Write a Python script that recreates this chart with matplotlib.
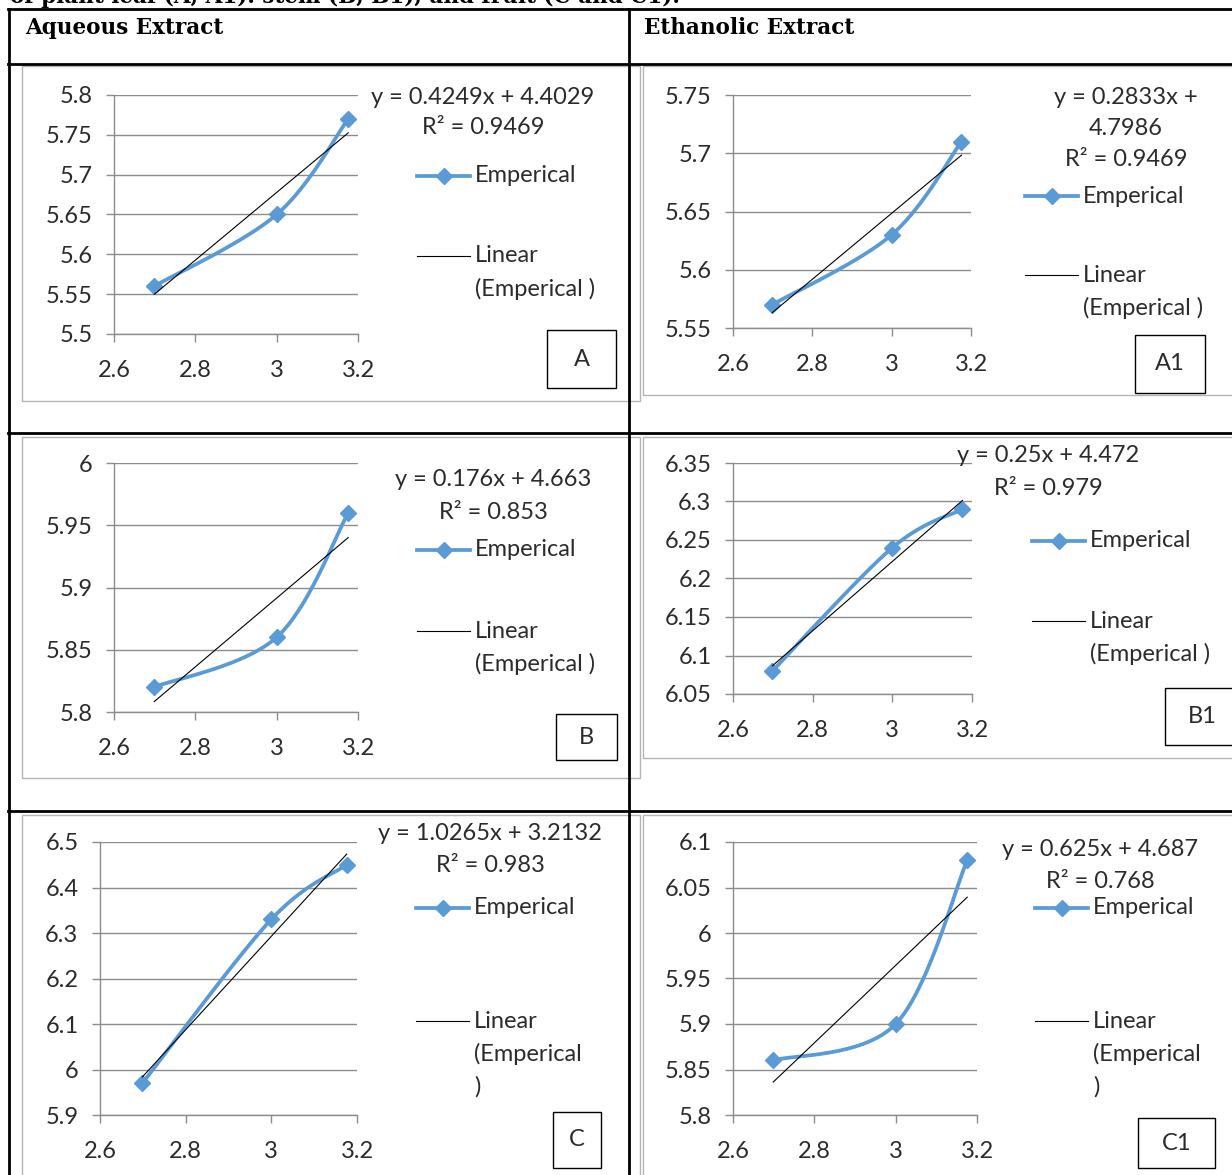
import numpy as np
import matplotlib.pyplot as plt
from matplotlib.lines import Line2D
from matplotlib.patches import Rectangle
from matplotlib.ticker import FuncFormatter

W, H = 1232, 1175

# data: log concentration vs empirical value, per panel
x_conc = [2.699, 3.0, 3.176]
panels = ['A', 'A1', 'B', 'B1', 'C', 'C1']
emp_A = [5.56, 5.65, 5.77]
emp_A1 = [5.57, 5.63, 5.71]
emp_B = [5.82, 5.86, 5.96]
emp_B1 = [6.08, 6.24, 6.29]
emp_C = [5.97, 6.33, 6.45]
emp_C1 = [5.86, 5.90, 6.08]

eq_A = ['y = 0.4249x + 4.4029', 'R² = 0.9469']
eq_A1 = ['y = 0.2833x +', '4.7986', 'R² = 0.9469']
eq_B = ['y = 0.176x + 4.663', 'R² = 0.853']
eq_B1 = ['y = 0.25x + 4.472', 'R² = 0.979']
eq_C = ['y = 1.0265x + 3.2132', 'R² = 0.983']
eq_C1 = ['y = 0.625x + 4.687', 'R² = 0.768']

yticks_A = [5.5, 5.55, 5.6, 5.65, 5.7, 5.75, 5.8]
yticks_A1 = [5.55, 5.6, 5.65, 5.7, 5.75]
yticks_B = [5.8, 5.85, 5.9, 5.95, 6.0]
yticks_B1 = [6.05, 6.1, 6.15, 6.2, 6.25, 6.3, 6.35]
yticks_C = [5.9, 6.0, 6.1, 6.2, 6.3, 6.4, 6.5]
yticks_C1 = [5.8, 5.85, 5.9, 5.95, 6.0, 6.05, 6.1]
xticks = [2.6, 2.8, 3.0, 3.2]

lin_label_short = ['Linear', '(Emperical )']
lin_label_wrap = ['Linear', '(Emperical', ')']

caption = 'of plant leaf (A, A1). stem (B, B1), and fruit (C and C1).'
headers = ['Aqueous Extract', 'Ethanolic Extract']

data = {'A': emp_A, 'A1': emp_A1, 'B': emp_B, 'B1': emp_B1, 'C': emp_C, 'C1': emp_C1}
eqs = {'A': eq_A, 'A1': eq_A1, 'B': eq_B, 'B1': eq_B1, 'C': eq_C, 'C1': eq_C1}
yts = {'A': yticks_A, 'A1': yticks_A1, 'B': yticks_B, 'B1': yticks_B1,
       'C': yticks_C, 'C1': yticks_C1}

# layout in pixels (plot box, chart frame, equation, legend, label box)
layout = {
    'A':  dict(plot=(114, 358, 95, 334), frame=(22, 66, 640, 401), eq=(483, 97, 31),
               leg=(417, 176, 256), box=(547, 330, 616, 388)),
    'A1': dict(plot=(733, 971, 95, 328), frame=(643, 66, 1240, 395), eq=(1126, 97, 31.5),
               leg=(1025, 196, 275), box=(1135, 335, 1205, 393)),
    'B':  dict(plot=(114, 358, 463, 712), frame=(22, 437, 640, 778), eq=(493, 480, 32),
               leg=(417, 550, 631), box=(556, 714, 617, 760)),
    'B1': dict(plot=(733, 972, 463, 694), frame=(643, 437, 1240, 758), eq=(1048, 456, 32),
               leg=(1032, 541, 621), box=(1165, 688, 1240, 745)),
    'C':  dict(plot=(100, 357, 842, 1115), frame=(22, 815, 640, 1190), eq=(490, 834, 32),
               leg=(416, 908, 1021), box=(553, 1112, 601, 1168)),
    'C1': dict(plot=(733, 977, 842, 1115), frame=(643, 815, 1240, 1190), eq=(1100, 850, 31),
               leg=(1035, 908, 1021), box=(1138, 1118, 1215, 1168)),
}

BLUE = '#5B9BD5'
GRID = '#8C8C8C'
TXT = '#2b2b2b'
FONT = ['Lato', 'DejaVu Sans']
FS = 17


def fx(x):
    return x / W


def fy(y):
    return 1 - y / H


def smooth(xs, ys, n=40):
    # Excel-like smoothed line: cubic bezier with catmull-rom control points
    p = np.column_stack([xs, ys])
    pts = np.vstack([p[0], p, p[-1]])
    out = []
    t = np.linspace(0, 1, n)[:, None]
    for i in range(1, len(pts) - 2):
        p0, p1, p2, p3 = pts[i - 1], pts[i], pts[i + 1], pts[i + 2]
        c1 = p1 + (p2 - p0) / 6
        c2 = p2 - (p3 - p1) / 6
        seg = ((1 - t) ** 3) * p1 + 3 * ((1 - t) ** 2) * t * c1 + 3 * (1 - t) * t ** 2 * c2 + t ** 3 * p2
        out.append(seg)
    out = np.vstack(out)
    return out[:, 0], out[:, 1]


fig = plt.figure(figsize=(W / 100, H / 100), dpi=100)
fig.patch.set_facecolor('white')

fmt = FuncFormatter(lambda v, pos: '%g' % round(v, 4))

for name in panels:
    L = layout[name]
    ys = data[name]

    # chart frame
    x0, y0, x1, y1 = L['frame']
    fig.add_artist(Rectangle((fx(x0), fy(y1)), fx(x1) - fx(x0), (y1 - y0) / H,
                             transform=fig.transFigure, fill=False,
                             edgecolor='#B4B4B4', linewidth=1.0, zorder=1))

    px0, px1, pyt, pyb = L['plot']
    ax = fig.add_axes([fx(px0), fy(pyb), fx(px1) - fx(px0), (pyb - pyt) / H])
    ax.set_xlim(2.6, 3.2)
    ax.set_ylim(yts[name][0], yts[name][-1])
    ax.set_xticks(xticks)
    ax.set_yticks(yts[name])
    ax.xaxis.set_major_formatter(fmt)
    ax.yaxis.set_major_formatter(fmt)
    ax.grid(axis='y', color=GRID, linewidth=1.0)
    ax.set_axisbelow(True)
    for s in ['top', 'right']:
        ax.spines[s].set_visible(False)
    for s in ['left', 'bottom']:
        ax.spines[s].set_color(GRID)
        ax.spines[s].set_linewidth(1.0)
    ax.tick_params(axis='both', direction='out', length=5.5, width=1.0, color=GRID,
                   labelcolor=TXT, labelsize=FS)
    ax.tick_params(axis='y', pad=10)
    ax.tick_params(axis='x', pad=13)
    for lab in ax.get_xticklabels() + ax.get_yticklabels():
        lab.set_family(FONT)
    ax.patch.set_alpha(0)

    sx, sy = smooth(x_conc, ys)
    ax.plot(sx, sy, color=BLUE, linewidth=2.7, zorder=3, solid_capstyle='round')
    ax.plot(x_conc, ys, linestyle='none', marker='D', markersize=8,
            color=BLUE, zorder=4)
    k, b = np.polyfit(x_conc, ys, 1)
    xf = np.array([x_conc[0], x_conc[-1]])
    ax.plot(xf, k * xf + b, color='black', linewidth=0.8, zorder=5)

    # trendline equation
    ex, ey, dy = L['eq']
    for i, line in enumerate(eqs[name]):
        fig.text(fx(ex), fy(ey + i * dy), line, ha='center', va='center',
                 fontsize=FS, color=TXT, family=FONT)

    # legend
    lx, le, ll = L['leg']
    fig.add_artist(Line2D([fx(lx), fx(lx + 53)], [fy(le), fy(le)], transform=fig.transFigure,
                          color=BLUE, linewidth=2.7))
    fig.add_artist(Line2D([fx(lx + 26.5)], [fy(le)], transform=fig.transFigure,
                          marker='D', markersize=8, color=BLUE, linestyle='none'))
    fig.text(fx(lx + 58), fy(le), 'Emperical', ha='left', va='center',
             fontsize=FS, color=TXT, family=FONT)
    fig.add_artist(Line2D([fx(lx), fx(lx + 53)], [fy(ll), fy(ll)], transform=fig.transFigure,
                          color='black', linewidth=0.8))
    lin_lines = lin_label_wrap if name in ('C', 'C1') else lin_label_short
    for i, line in enumerate(lin_lines):
        fig.text(fx(lx + 58), fy(ll + i * 33), line, ha='left', va='center',
                 fontsize=FS, color=TXT, family=FONT)

    # panel label box
    bx0, by0, bx1, by1 = L['box']
    fig.add_artist(Rectangle((fx(bx0), fy(by1)), fx(bx1) - fx(bx0), (by1 - by0) / H,
                             transform=fig.transFigure, fill=True, facecolor='white',
                             edgecolor='black', linewidth=1.0, zorder=6))
    fig.text(fx((bx0 + bx1) / 2), fy((by0 + by1) / 2), name, ha='center', va='center',
             fontsize=FS, color=TXT, family=FONT, zorder=7)

# table borders
TL = 2.0
for yy in [9, 64, 433, 811]:
    fig.add_artist(Line2D([fx(8), 1], [fy(yy), fy(yy)], transform=fig.transFigure,
                          color='black', linewidth=TL, zorder=10))
for xx in [9, 629]:
    fig.add_artist(Line2D([fx(xx), fx(xx)], [fy(9), 0], transform=fig.transFigure,
                          color='black', linewidth=TL, zorder=10))

fig.text(fx(10), fy(3), caption, ha='left', va='baseline', fontsize=15.5,
         fontweight='bold', family='DejaVu Serif', color='black')
fig.text(fx(25), fy(28), headers[0], ha='left', va='center', fontsize=15.5,
         fontweight='bold', family='DejaVu Serif', color='black')
fig.text(fx(644), fy(28), headers[1], ha='left', va='center', fontsize=15.5,
         fontweight='bold', family='DejaVu Serif', color='black')

fig.savefig('out.png', dpi=100)
